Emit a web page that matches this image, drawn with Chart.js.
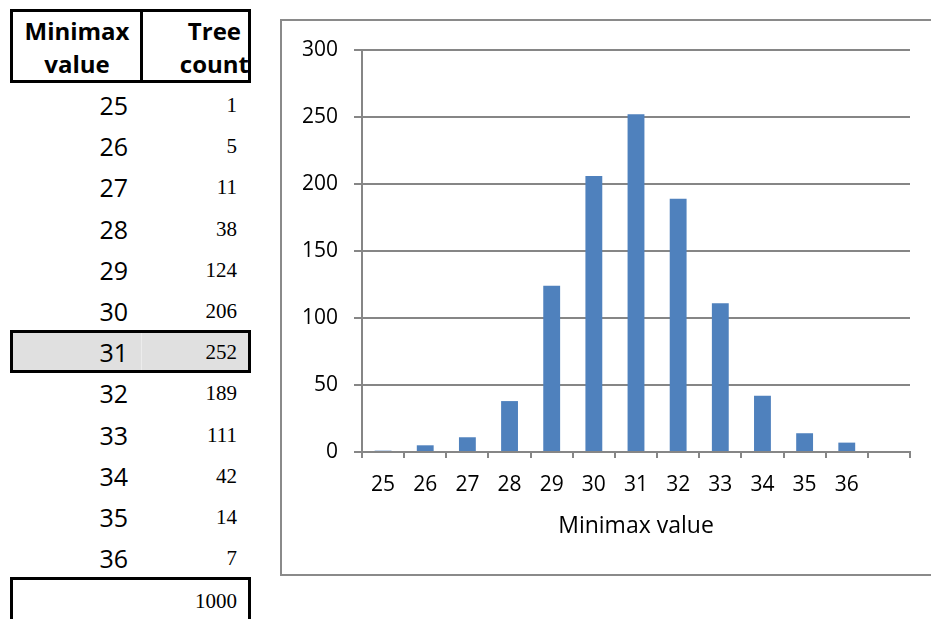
<!DOCTYPE html>
<html>
<head>
<meta charset="utf-8">
<script src="https://cdn.jsdelivr.net/npm/chart.js"></script>
<style>
  html, body { margin:0; padding:0; background:#fff; width:931px; height:619px; overflow:hidden; position:relative; }
  .box { position:absolute; border:3px solid #000; box-sizing:border-box; }
  .cell { position:absolute; white-space:nowrap; }
  .hdr { font-family:"Open Sans", sans-serif; font-weight:bold; font-size:24px; line-height:26px; color:#000; }
  .val { font-family:"Open Sans", sans-serif; font-size:25px; color:#000; text-align:right; }
  .cnt { font-family:"Liberation Serif", serif; font-size:21px; color:#000; text-align:right; }
  #frame { position:absolute; left:280px; top:19px; width:700px; height:557px; border:2px solid #8a8a8a; box-sizing:border-box; }
  #wrap { position:absolute; left:282px; top:21px; width:649px; height:553px; }
</style>
</head>
<body>
<div id="table"></div>
<div id="frame"></div>
<div id="wrap"><canvas id="chart" width="649" height="553"></canvas></div>
<script>
  // data
  var minimaxValues = ['25','26','27','28','29','30','31','32','33','34','35','36'];
  var treeCounts    = [1, 5, 11, 38, 124, 206, 252, 189, 111, 42, 14, 7];
  var totalCount    = 1000;
  var highlightValue = '31';
  var yMax = 300, yStep = 50;
  var axisTitle = 'Minimax value';

  // TABLE (left side)
  function renderTable(){
    var t = document.getElementById('table');
    var h = '';
    // header box
    h += '<div class="box" style="left:10px;top:9px;width:241px;height:74px"></div>';
    h += '<div style="position:absolute;left:140px;top:9px;width:3px;height:74px;background:#000"></div>';
    h += '<div class="cell hdr" style="left:13px;width:128px;top:18px;text-align:center">Minimax</div>';
    h += '<div class="cell hdr" style="left:13px;width:128px;top:51px;text-align:center">value</div>';
    h += '<div class="cell hdr" style="left:143px;width:98px;top:18px;text-align:right">Tree</div>';
    h += '<div class="cell hdr" style="left:143px;width:106px;top:51px;text-align:right">count</div>';

    minimaxValues.forEach(function(v, i){
      var cy = 105 + i * 41.2; // row centre
      if(v === highlightValue){
        h += '<div class="box" style="left:10px;top:' + (cy - 22) + 'px;width:241px;height:43px;background:#e0e0e0"></div>';
        h += '<div style="position:absolute;left:141px;top:' + (cy - 19) + 'px;width:1px;height:37px;background:#ececec"></div>';
      }
      h += '<div class="cell val" style="right:' + (931 - 128) + 'px;top:' + (cy - 17) + 'px;line-height:34px">' + v + '</div>';
      h += '<div class="cell cnt" style="right:' + (931 - 237) + 'px;top:' + (cy - 15) + 'px;line-height:30px">' + treeCounts[i] + '</div>';
    });

    // total box
    h += '<div class="box" style="left:10px;top:577px;width:241px;height:60px"></div>';
    h += '<div class="cell cnt" style="right:' + (931 - 237) + 'px;top:586px;line-height:30px">' + totalCount + '</div>';
    t.innerHTML = h;
  }

  // CHART (right side)
  function renderChart(){
    var labels = minimaxValues.concat(['']);   // empty slot after 36
    var data   = treeCounts.concat([null]);
    var grey = '#868686';

    new Chart(document.getElementById('chart'), {
      type: 'bar',
      data: {
        labels: labels,
        datasets: [{
          data: data,
          backgroundColor: '#4f81bd',
          borderWidth: 0,
          barPercentage: 0.4,
          categoryPercentage: 1
        }]
      },
      options: {
        responsive: false,
        animation: false,
        events: [],
        layout: { padding: { top: 29, right: 21, left: 0, bottom: 0 } },
        plugins: { legend: { display: false }, tooltip: { enabled: false } },
        scales: {
          x: {
            offset: true,
            grid: { offset: true, drawOnChartArea: false, drawTicks: true, tickLength: 6, color: grey, lineWidth: 2 },
            border: { color: grey, width: 2 },
            ticks: { color: '#000', padding: 14, maxRotation: 0, autoSkip: false,
                     font: { family: 'Open Sans', size: 21 } },
            title: { display: true, text: axisTitle, color: '#000',
                     font: { family: 'Open Sans', size: 23 }, padding: { top: 0, bottom: 34 } },
            afterFit: function(s){ s.height = 122; }
          },
          y: {
            min: 0, max: yMax,
            grid: { color: grey, lineWidth: 2, drawTicks: true, tickLength: 8 },
            border: { color: grey, width: 2 },
            ticks: { stepSize: yStep, color: '#000', padding: 16,
                     font: { family: 'Open Sans', size: 21 } },
            afterFit: function(s){ s.width = 80; }
          }
        }
      }
    });
  }

  renderTable();
  renderChart();
</script>
</body>
</html>
